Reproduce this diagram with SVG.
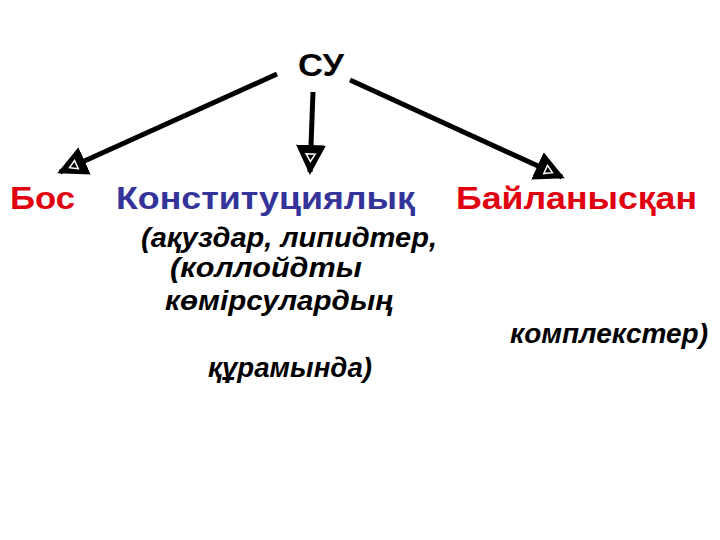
<svg xmlns="http://www.w3.org/2000/svg" width="720" height="540" viewBox="0 0 720 540">
<style>
.t{font-family:"Liberation Sans",Arial,sans-serif;font-weight:bold}
.lbl{font-size:32px}
.it{font-size:27px;font-style:italic;fill:#000}
.red{fill:#e0000f}
.blue{fill:#333399}
.ln{stroke:#000;stroke-width:5;fill:none;marker-end:url(#ah)}
</style>
<defs>
<marker id="ah" viewBox="0 0 20 20" refX="18" refY="10" markerWidth="6" markerHeight="6" markerUnits="strokeWidth" orient="auto">
<path d="M0,0 L20,10 L0,20 Z" fill="#000"/>
<path d="M6,7 L11,10 L6,13 Z" fill="none" stroke="#fff" stroke-width="1"/>
</marker>
</defs>
<rect width="720" height="540" fill="#fff"/>
<g id="root"><text class="t lbl" x="321" y="76" text-anchor="middle" fill="#000" textLength="46" lengthAdjust="spacingAndGlyphs">СУ</text></g>
<g id="connectors">
<line class="ln" x1="277" y1="74" x2="60" y2="172"/>
<line class="ln" x1="313" y1="92" x2="310" y2="172"/>
<line class="ln" x1="350" y1="80" x2="562" y2="177"/>
</g>
<g id="bos"><text class="t lbl red" x="10" y="209" textLength="65" lengthAdjust="spacingAndGlyphs">Бос</text></g>
<g id="konst"><text class="t lbl blue" x="116" y="209" textLength="299" lengthAdjust="spacingAndGlyphs">Конституциялық</text></g>
<g id="bailan"><text class="t lbl red" x="456" y="209" textLength="241" lengthAdjust="spacingAndGlyphs">Байланысқан</text></g>
<g id="notes">
<text class="t it" x="141" y="247" textLength="296" lengthAdjust="spacingAndGlyphs">(ақуздар, липидтер,</text>
<text class="t it" x="170" y="277" textLength="192" lengthAdjust="spacingAndGlyphs">(коллойдты</text>
<text class="t it" x="165" y="310" textLength="228" lengthAdjust="spacingAndGlyphs">көмірсулардың</text>
<text class="t it" x="510" y="343" textLength="198" lengthAdjust="spacingAndGlyphs">комплекстер)</text>
<text class="t it" x="208" y="377" textLength="164" lengthAdjust="spacingAndGlyphs">құрамында)</text>
</g>
</svg>
